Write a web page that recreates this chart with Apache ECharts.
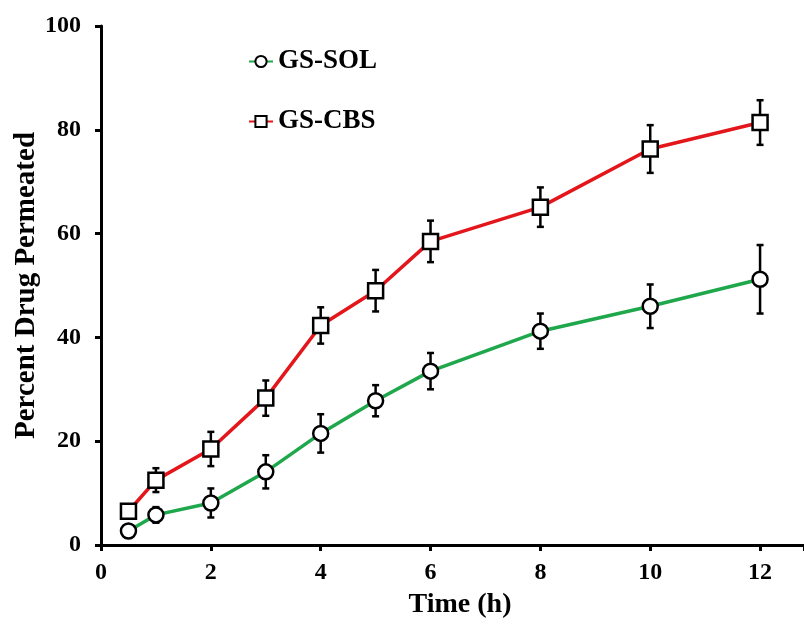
<!DOCTYPE html>
<html>
<head>
<meta charset="utf-8">
<script src="https://cdn.jsdelivr.net/npm/echarts@6/dist/echarts.min.js"></script>
<style>
  html, body { margin: 0; padding: 0; background: #fff; }
  #chart { width: 804px; height: 624px; }
</style>
</head>
<body>
<div id="chart"></div>
<script>
const timeH = [0.5, 1, 2, 3, 4, 5, 6, 8, 10, 12];
const solMean = [2.7, 5.8, 8.1, 14.1, 21.5, 27.8, 33.5, 41.2, 46.0, 51.2];
const solSD = [0.8, 1.5, 2.8, 3.2, 3.7, 3.0, 3.5, 3.4, 4.2, 6.6];
const cbsMean = [6.5, 12.5, 18.5, 28.3, 42.3, 49.0, 58.5, 65.1, 76.3, 81.4];
const cbsSD = [0.8, 2.3, 3.3, 3.4, 3.5, 4.0, 4.0, 3.8, 4.6, 4.3];
const xTicks = [0, 2, 4, 6, 8, 10, 12];

const font = "'Liberation Serif', 'Times New Roman', serif";

function pairs(means) {
    return timeH.map((t, i) => [t, means[i]]);
}
function errRows(means, sds) {
    return timeH.map((t, i) => [t, means[i], sds[i]]);
}

// vertical error bar with small caps
function renderErr(params, api) {
    const x = api.value(0), y = api.value(1), e = api.value(2);
    const top = api.coord([x, y + e]);
    const bot = api.coord([x, y - e]);
    const cap = 3.5;
    const style = { stroke: '#000', lineWidth: 2.5 };
    return {
        type: 'group',
        children: [
            { type: 'line', shape: { x1: top[0], y1: top[1], x2: bot[0], y2: bot[1] }, style: style },
            { type: 'line', shape: { x1: top[0] - cap, y1: top[1], x2: top[0] + cap, y2: top[1] }, style: style },
            { type: 'line', shape: { x1: bot[0] - cap, y1: bot[1], x2: bot[0] + cap, y2: bot[1] }, style: style }
        ]
    };
}

const chart = echarts.init(document.getElementById('chart'));
const option = {
    backgroundColor: '#fff',
    animation: false,
    grid: { left: 101, right: 0, top: 26, bottom: 79, outerBoundsMode: 'none' },
    legend: {
        orient: 'vertical',
        left: 248,
        top: 48,
        padding: 0,
        itemGap: 33,
        itemWidth: 24,
        itemHeight: 14,
        textStyle: { fontFamily: font, fontWeight: 'bold', fontSize: 27, color: '#000' },
        data: ['GS-SOL', 'GS-CBS']
    },
    xAxis: {
        type: 'value',
        min: 0,
        max: 12.8,
        interval: 2,
        name: 'Time (h)',
        nameLocation: 'middle',
        nameGap: 46,
        nameMoveOverlap: false,
        nameTextStyle: { fontFamily: font, fontWeight: 'bold', fontSize: 28, color: '#000', padding: [0, 0, 0, 15] },
        axisLine: { lineStyle: { color: '#000', width: 3 } },
        axisTick: { length: 6, lineStyle: { color: '#000', width: 3 } },
        axisLabel: {
            margin: 16,
            fontFamily: font, fontWeight: 'bold', fontSize: 24, color: '#000',
            formatter: v => xTicks.indexOf(v) >= 0 ? String(v) : ''
        },
        splitLine: { show: false }
    },
    yAxis: {
        type: 'value',
        min: 0,
        max: 100,
        interval: 20,
        name: 'Percent Drug Permeated',
        nameLocation: 'middle',
        nameGap: 60,
        nameMoveOverlap: false,
        nameTextStyle: { fontFamily: font, fontWeight: 'bold', fontSize: 29, color: '#000' },
        axisLine: { show: true, lineStyle: { color: '#000', width: 3 } },
        axisTick: { show: true, length: 6, lineStyle: { color: '#000', width: 3 } },
        axisLabel: { margin: 20, fontFamily: font, fontWeight: 'bold', fontSize: 24, color: '#000' },
        splitLine: { show: false }
    },
    series: [
        {
            name: 'SOL err', type: 'custom', z: 1,
            renderItem: renderErr,
            data: errRows(solMean, solSD)
        },
        {
            name: 'CBS err', type: 'custom', z: 1,
            renderItem: renderErr,
            data: errRows(cbsMean, cbsSD)
        },
        {
            name: 'GS-SOL', type: 'line', z: 3,
            data: pairs(solMean),
            symbol: 'circle', symbolSize: 15,
            lineStyle: { color: '#1fa74c', width: 3.5 },
            itemStyle: { color: '#fff', borderColor: '#000', borderWidth: 2.5 }
        },
        {
            name: 'GS-CBS', type: 'line', z: 3,
            data: pairs(cbsMean),
            symbol: 'rect', symbolSize: 15,
            lineStyle: { color: '#e3161b', width: 3.5 },
            itemStyle: { color: '#fff', borderColor: '#000', borderWidth: 2.5 }
        }
    ]
};
chart.setOption(option);
</script>
</body>
</html>
